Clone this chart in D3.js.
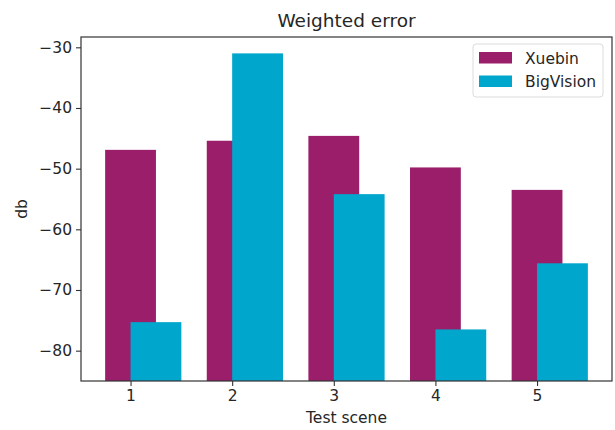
<!DOCTYPE html>
<html>
<head>
  <meta charset='utf-8'>
  <title>Weighted error</title>
  <script src="https://cdn.jsdelivr.net/npm/d3@7"></script>
  <style>
    body { margin: 0; background: #fff; }
    text { font-family: "DejaVu Sans", sans-serif; fill: #262626; }
  </style>
</head>
<body>
  <svg width="615" height="430" id="chart"></svg>
  <script>
    // data
    const scenes = [1, 2, 3, 4, 5];
    const xuebin = [-46.9, -45.4, -44.6, -49.8, -53.5];
    const bigVision = [-75.3, -31.0, -54.2, -76.5, -65.6];
    const yTicks = [-80, -70, -60, -50, -40, -30];
    const seriesNames = ["Xuebin", "BigVision"];
    const colors = ["#9b1e6b", "#01a6cc"];
    const barBottom = -85;
    const barWidth = 0.5;

    const svg = d3.select('#chart');
    const m = { left: 81, right: 612, top: 37, bottom: 381 };
    const fs = '15.5px';

    // matplotlib style margins: 5% on x, top only on y (bars stick to bottom)
    const xMin = scenes[0] - 0.25, xMax = scenes[scenes.length - 1] + 0.5;
    const xPad = (xMax - xMin) * 0.05;
    const x = d3.scaleLinear().domain([xMin - xPad, xMax + xPad]).range([m.left, m.right]);

    const yMax = d3.max(xuebin.concat(bigVision));
    const y = d3.scaleLinear()
      .domain([barBottom, yMax + (yMax - barBottom) * 0.05])
      .range([m.bottom, m.top]);

    // Xuebin centred at x-0.25, BigVision at x+0.25 (drawn on top)
    const bars = [
      { vals: xuebin, left: -0.25, color: colors[0] },
      { vals: bigVision, left: 0, color: colors[1] }
    ];

    bars.forEach(s => {
      svg.append('g')
        .selectAll('rect')
        .data(scenes)
        .join('rect')
        .attr('x', (d) => x(d + s.left))
        .attr('width', x(barWidth) - x(0))
        .attr('y', (d, i) => y(s.vals[i]))
        .attr('height', (d, i) => y(barBottom) - y(s.vals[i]))
        .style('fill', s.color);
    });

    // axes
    const xAxis = svg.append('g')
      .attr('transform', `translate(0,${m.bottom})`)
      .call(d3.axisBottom(x).tickValues(scenes).tickSize(5).tickPadding(4)
        .tickFormat(d3.format('d')));
    const yAxis = svg.append('g')
      .attr('transform', `translate(${m.left},0)`)
      .call(d3.axisLeft(y).tickValues(yTicks).tickSize(5).tickPadding(4)
        .tickFormat(d => d3.format('d')(d).replace('-', '\u2212')));

    [xAxis, yAxis].forEach(a => {
      a.select('.domain').remove();
      a.selectAll('line').attr('stroke', '#333').attr('stroke-width', 1.1);
      a.selectAll('text').style('font-size', fs).style('fill', '#262626');
    });

    // frame
    svg.append('rect')
      .attr('x', m.left).attr('y', m.top)
      .attr('width', m.right - m.left).attr('height', m.bottom - m.top)
      .attr('fill', 'none').attr('stroke', '#333').attr('stroke-width', 1.2);

    // titles
    svg.append('text')
      .attr('x', (m.left + m.right) / 2).attr('y', 27)
      .attr('text-anchor', 'middle').style('font-size', '18.5px')
      .text('Weighted error');
    svg.append('text')
      .attr('x', (m.left + m.right) / 2).attr('y', 423)
      .attr('text-anchor', 'middle').style('font-size', fs)
      .text('Test scene');
    svg.append('text')
      .attr('transform', `translate(27,${(m.top + m.bottom) / 2}) rotate(-90)`)
      .attr('text-anchor', 'middle').style('font-size', fs)
      .text('db');

    // legend
    const lg = svg.append('g').attr('transform', 'translate(473,44)');
    lg.append('rect')
      .attr('width', 130).attr('height', 53).attr('rx', 3)
      .attr('fill', '#fff').attr('fill-opacity', 0.8)
      .attr('stroke', '#dcdcdc');
    const items = lg.selectAll('g.item')
      .data(seriesNames)
      .join('g')
      .classed('item', true)
      .attr('transform', (d, i) => `translate(6,${8 + i * 23.5})`);
    items.append('rect')
      .attr('width', 33).attr('height', 11.5)
      .style('fill', (d, i) => colors[i]);
    items.append('text')
      .attr('x', 46).attr('y', 11.5)
      .style('font-size', fs)
      .text(d => d);
  </script>
</body>
</html>
